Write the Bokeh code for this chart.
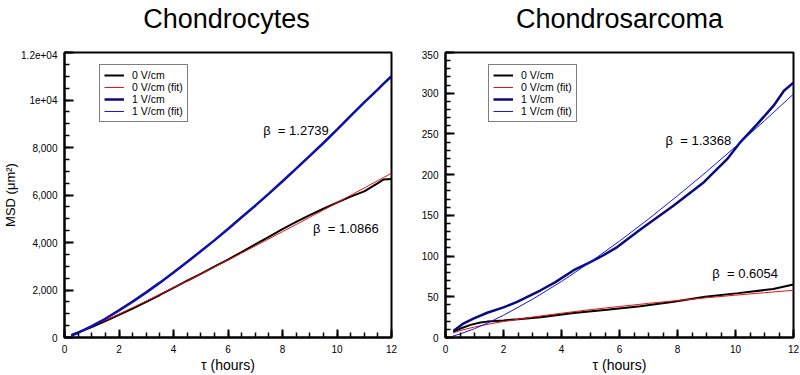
from bokeh.plotting import figure
from bokeh.layouts import row, column
from bokeh.models import Label, SingleIntervalTicker, Range1d, Legend, LegendItem
from bokeh.embed import file_html
from bokeh.resources import INLINE

FONT = "Liberation Sans"

# ---------------- data: Chondrocytes ----------------
t_left = [0.25, 0.5, 1, 1.5, 2, 2.5, 3, 3.5, 4, 4.5, 5, 5.5, 6, 6.5, 7, 7.5, 8, 8.5,
          9, 9.5, 10, 10.5, 11, 11.5, 11.7, 12]
msd_0v_left = [110, 215, 440, 690, 950, 1220, 1500, 1790, 2090, 2390, 2680, 2980, 3280,
               3600, 3920, 4240, 4560, 4870, 5150, 5420, 5680, 5930, 6150, 6500, 6650, 6670]
fit_0v_left = [103, 219, 465, 722, 987, 1258, 1534, 1814, 2097, 2384, 2673, 2964, 3258,
               3554, 3852, 4152, 4454, 4757, 5062, 5369, 5676, 5985, 6296, 6607, 6730, 6919]
msd_1v_left = [85, 200, 480, 790, 1140, 1510, 1900, 2310, 2740, 3180, 3630, 4090, 4570,
               5060, 5550, 6060, 6580, 7110, 7650, 8190, 8750, 9330, 9900, 10450, 10680, 11000]
fit_1v_left = [80, 193, 466, 781, 1127, 1497, 1889, 2299, 2725, 3166, 3621, 4088, 4567,
               5058, 5559, 6070, 6589, 7119, 7655, 8202, 8756, 9318, 9886, 10462, 10690, 11044]

# ---------------- data: Chondrosarcoma ----------------
t_0v_right = [0.27, 0.52, 0.86, 1.2, 1.44, 2, 2.5, 3.28, 4.42, 5.57, 6.72, 7.87, 8.95,
              10.1, 11.3, 12]
msd_0v_right = [7, 11, 15.5, 18.5, 19.5, 21, 22.5, 25, 30, 34, 38.5, 44, 50, 54.5, 59.5, 65]
t_fit_right = [0.25, 0.5, 1, 1.5, 2, 3, 4, 5, 6, 7, 8, 9, 10, 11, 12]
fit_0v_right = [5.6, 8.5, 12.9, 16.5, 19.6, 25.1, 29.8, 34.2, 38.1, 41.9, 45.4, 48.8, 52.0, 55.0, 58.0]
t_1v_right = [0.27, 0.63, 0.98, 1.44, 2, 2.47, 3.28, 3.79, 4.42, 4.89, 5.34, 5.92, 6.72,
              7.87, 8.91, 9.71, 10.17, 10.75, 11.32, 11.67, 12]
msd_1v_right = [8, 17.4, 23.5, 30.4, 37, 43.8, 58, 68, 82.6, 90.8, 98.9, 111, 132.5,
                162, 190.7, 219, 240, 262, 285, 303, 313]
fit_1v_right = [1.7, 4.3, 10.8, 18.6, 27.3, 46.9, 68.8, 92.8, 118.4, 145.5, 174, 203.5, 234.4, 266.2, 299]

titles = ["Chondrocytes", "Chondrosarcoma"]
legend_labels = ["0 V/cm", "0 V/cm (fit)", "1 V/cm", "1 V/cm (fit)"]
beta_left = ["β\u00a0 = 1.2739", "β\u00a0 = 1.0866"]
beta_right = ["β\u00a0 = 1.3368", "β\u00a0 = 0.6054"]

C_BLACK = "#000000"
C_RED = "#ee1111"
C_NAVY = "#0a0a80"
C_BLUE = "#1515f0"

TITLE_H = 50

# ---- title strip (a bare canvas holding the two panel titles)
pt = figure(width=800, height=TITLE_H, output_backend="svg", toolbar_location=None,
            x_range=Range1d(0, 800), y_range=Range1d(TITLE_H, 0),
            x_axis_location=None, y_axis_location=None,
            min_border=0, outline_line_color=None)
pt.xgrid.visible = False
pt.ygrid.visible = False
for xc, txt in ((226, titles[0]), (619, titles[1])):
    pt.add_layout(Label(x=xc, y=18, text=txt, text_font=FONT, text_font_size="27px",
                        text_align="center", text_baseline="middle", text_color="black"))


def make_fig(ymax, yint, ynminor, left_border, right_border, width):
    p = figure(width=width, height=375 - TITLE_H, output_backend="svg", toolbar_location=None,
               x_range=Range1d(0, 12), y_range=Range1d(0, ymax),
               min_border_left=left_border, min_border_right=right_border,
               min_border_top=52 - TITLE_H, min_border_bottom=37)
    p.xgrid.visible = False
    p.ygrid.visible = False
    p.outline_line_color = "black"
    p.outline_line_width = 2
    p.outline_line_alpha = 1
    p.xaxis.ticker = SingleIntervalTicker(interval=2, num_minor_ticks=4)
    p.yaxis.ticker = SingleIntervalTicker(interval=yint, num_minor_ticks=ynminor)
    for ax, tin in ((p.xaxis, 8), (p.yaxis, 9)):
        ax.axis_line_width = 2
        ax.axis_line_color = "black"
        ax.major_tick_out = 0
        ax.major_tick_in = tin
        ax.minor_tick_out = 0
        ax.minor_tick_in = 5
        ax.major_tick_line_color = "black"
        ax.minor_tick_line_color = "black"
        ax.major_tick_line_width = 2
        ax.minor_tick_line_width = 1.5
        ax.major_label_text_font = FONT
        ax.major_label_text_font_size = "10px"
        ax.major_label_text_color = "black"
        ax.axis_label_text_font = FONT
        ax.axis_label_text_font_style = "normal"
        ax.axis_label_text_color = "black"
    p.xaxis.major_label_standoff = 7
    p.yaxis.major_label_standoff = 7
    p.xaxis.axis_label = "τ (hours)"
    p.xaxis.axis_label_text_font_size = "14px"
    p.xaxis.axis_label_standoff = 1
    return p


def add_lines(p, t0, y0, tf0, f0, t1, y1, tf1, f1, loc):
    r0 = p.line(t0, y0, line_color=C_BLACK, line_width=2)
    rf0 = p.line(tf0, f0, line_color=C_RED, line_width=1)
    r1 = p.line(t1, y1, line_color=C_NAVY, line_width=2.5)
    rf1 = p.line(tf1, f1, line_color=C_BLUE, line_width=1)
    items = [LegendItem(label=lab, renderers=[r]) for lab, r in zip(legend_labels, [r0, rf0, r1, rf1])]
    leg = Legend(items=items, location=loc)
    leg.padding = 4
    leg.spacing = 0
    leg.margin = 0
    leg.glyph_width = 20
    leg.glyph_height = 12
    leg.label_height = 12
    leg.label_standoff = 8
    leg.label_text_font = FONT
    leg.label_text_font_size = "10.5px"
    leg.label_text_color = "black"
    leg.border_line_color = "black"
    leg.border_line_width = 1
    leg.background_fill_alpha = 1
    p.add_layout(leg, "center")


def add_beta(p, x, y, text):
    p.add_layout(Label(x=x, y=y, text=text, text_font=FONT, text_font_size="13px",
                       text_baseline="middle", text_align="left", text_color="black"))


# ---- left panel
p1 = make_fig(12000, 2000, 4, 61, 9, 400)
p1.yaxis.major_label_overrides = {0: "0", 2000: "2,000", 4000: "4,000", 6000: "6,000",
                                  8000: "8,000", 10000: "1e+04", 12000: "1.2e+04"}
p1.yaxis.axis_label = "MSD (μm²)"
p1.yaxis.axis_label_text_font_size = "13px"
p1.yaxis.axis_label_standoff = 0
add_lines(p1, t_left, msd_0v_left, t_left, fit_0v_left, t_left, msd_1v_left, t_left, fit_1v_left, (35, 215))
add_beta(p1, 7.29, 8700, beta_left[0])
add_beta(p1, 9.12, 4590, beta_left[1])

# ---- right panel
p2 = make_fig(350, 50, 5, 45, 7, 400)
add_lines(p2, t_0v_right, msd_0v_right, t_fit_right, fit_0v_right,
          t_1v_right, msd_1v_right, t_fit_right, fit_1v_right, (43, 215))
add_beta(p2, 7.59, 242, beta_right[0])
add_beta(p2, 9.2, 79, beta_right[1])

layout = column(pt, row(p1, p2))
open("out.html", "w").write(file_html(layout, INLINE))
